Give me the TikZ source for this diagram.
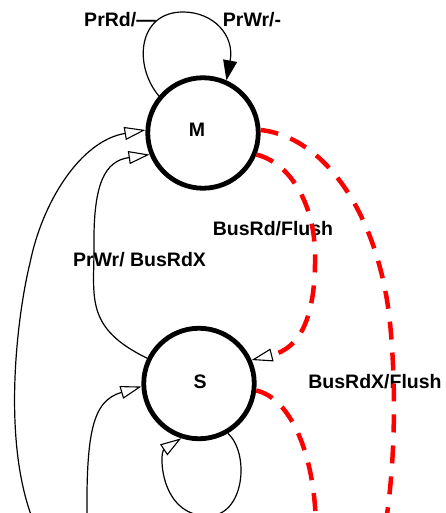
\documentclass[tikz,border=0pt]{standalone}
\usepackage{fontspec}
\setmainfont{Liberation Sans}
\usetikzlibrary{arrows.meta}
\begin{document}
\begin{tikzpicture}[x=1pt,y=1pt,
  state/.style={circle, draw=black, line width=4.8pt, minimum size=110.5pt, inner sep=0pt},
  lblfont/.style={font=\fontsize{19.5}{22}\selectfont\bfseries},
  lbl/.style={lblfont, anchor=base, inner sep=0pt},
  conn/.style={draw=black, line width=1.2pt},
  openarr/.style={-{Triangle[length=21pt,width=13pt,fill=white,line width=1.1pt]}},
  bus/.style={draw=red, line width=4.5pt, dash pattern=on 18pt off 13pt},
]
\fill[white] (0,0) rectangle (445,513);
\useasboundingbox (0,0) rectangle (445,513);
\clip (0,0) rectangle (445,513);

% states
\node[state, label={[lblfont, xshift=-6pt, yshift=3pt]center:M}] (M) at (203,380) {};
\node[state, label={[lblfont, xshift=1pt, yshift=1.5pt]center:S}] (S) at (199,129.5) {};

% labels
\node[lbl] (l1) at (120,486) {PrRd/—};
\node[lbl] (l2) at (252,486) {PrWr/-};
\node[lbl] (l3) at (273,277) {BusRd/Flush};
\node[lbl] (l4) at (139.5,246) {PrWr/ BusRdX};
\node[lbl] (l5) at (375,124) {BusRdX/Flush};

% free ends below the frame
\coordinate (a0) at (35,-12);
\coordinate (c0) at (87,-12);
\coordinate (e0) at (385,-15);
\coordinate (f0) at (316,-15);

% M self loop
\draw[conn, -{Triangle[length=20pt,width=14pt]}] (M.140) .. controls (133,448) and (138,501) .. (183,501)
  .. controls (213,501) and (235,478) .. (M.66);

% outer left curve into M
\draw[conn, openarr] (a0) .. controls (0,70) and (18,202) .. (30,250)
  .. controls (42,310) and (80,372) .. (M.177);

% PrWr/BusRdX : S -> M
\draw[conn, openarr] (S.154) .. controls (85,185) and (94,215) .. (94,265)
  .. controls (93,330) and (105,352) .. (M.202);

% curve from below into S
\draw[conn, openarr] (c0) .. controls (86,80) and (92,112) .. (S.183);

% S self loop
\draw[conn, openarr] (S.-60) .. controls (250,60) and (245,-4) .. (207,-3)
  .. controls (160,-2) and (159,60) .. (S.-108);

% BusRd/Flush : M -> S
\draw[bus, -{Triangle[length=21pt,width=13pt,fill=white,color=black,line width=1.1pt]}]
  (M.-22) .. controls (290,350) and (314,310) .. (315,260)
  .. controls (316,195) and (300,165) .. (S.24);

% BusRdX/Flush : M -> below
\draw[bus] (M.3) .. controls (330,375) and (380,290) .. (390,190)
  .. controls (395,140) and (397,60) .. (e0);

% S -> below
\draw[bus] (S.-7) .. controls (290,115) and (315,60) .. (f0);
\end{tikzpicture}
\end{document}
